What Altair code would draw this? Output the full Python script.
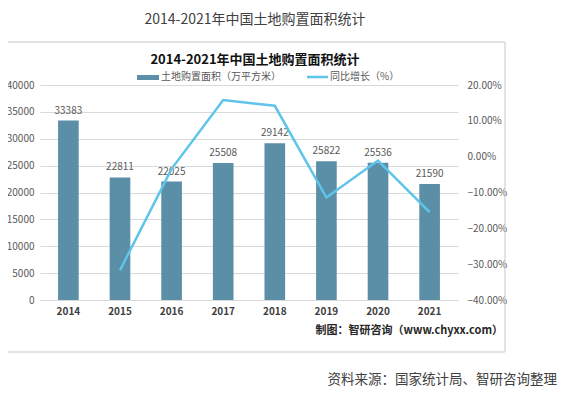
import altair as alt
import pandas as pd

years = ["2014", "2015", "2016", "2017", "2018", "2019", "2020", "2021"]
area = [33383, 22811, 22025, 25508, 29142, 25822, 25536, 21590]
growth_years = ["2015", "2016", "2017", "2018", "2019", "2020", "2021"]
growth_pct = [-31.7, -3.4, 15.8, 14.2, -11.4, -1.1, -15.5]
left_ticks = [0, 5000, 10000, 15000, 20000, 25000, 30000, 35000, 40000]
right_ticks = [-0.4, -0.3, -0.2, -0.1, 0.0, 0.1, 0.2]

outer_title = "2014-2021年中国土地购置面积统计"
inner_title = "2014-2021年中国土地购置面积统计"
legend_bar = "土地购置面积（万平方米）"
legend_line = "同比增长（%）"
credit = "制图：智研咨询（www.chyxx.com）"
source = "资料来源：国家统计局、智研咨询整理"

df = pd.DataFrame({"year": years, "area": area})
dg = pd.DataFrame({"year": growth_years, "growth": [g / 100 for g in growth_pct]})
one = pd.DataFrame({"a": [0]})

FONT = "Noto Sans CJK SC"
BAR = "#5b8fa7"
LINE = "#5ec4ea"

xscale = alt.Scale(domain=years, paddingInner=0.6, paddingOuter=0.35)

xenc = alt.X(
    "year:N",
    scale=xscale,
    axis=alt.Axis(title=None, labelAngle=0, labelFontWeight="bold", labelColor="#404040",
                  labelFontSize=10, domain=False, ticks=False, labelPadding=6, labelFont=FONT),
)

bars = alt.Chart(df).mark_bar(color=BAR).encode(
    x=xenc,
    y=alt.Y("area:Q", scale=alt.Scale(domain=[0, 40000]),
            axis=alt.Axis(title=None, orient="left", values=left_ticks, format="d", grid=True,
                          gridColor="#d9d9d9", domain=False, ticks=False, labelColor="#595959",
                          labelFontSize=10, labelPadding=6, labelFont=FONT)),
)

bartext = alt.Chart(df).mark_text(dy=-10, color="#595959", fontSize=10, font=FONT).encode(
    x=alt.X("year:N", scale=xscale),
    y=alt.Y("area:Q", scale=alt.Scale(domain=[0, 40000]), axis=None),
    text=alt.Text("area:Q", format="d"),
)

line = alt.Chart(dg).mark_line(color=LINE, strokeWidth=2.5).encode(
    x=alt.X("year:N", scale=xscale),
    y=alt.Y("growth:Q", scale=alt.Scale(domain=[-0.4, 0.2]),
            axis=alt.Axis(title=None, orient="right", values=right_ticks, format=".2%", grid=False,
                          domain=False, ticks=False, labelColor="#595959", labelFontSize=10,
                          labelPadding=9, labelFont=FONT)),
)

box = alt.Chart(one).mark_rect(fillOpacity=0, stroke="#c8c8c8", strokeWidth=1).encode(
    x=alt.value(-34), x2=alt.value(465), y=alt.value(-43), y2=alt.value(267))

t_outer = alt.Chart(one).mark_text(fontSize=14, color="#404040", font=FONT, align="center", baseline="middle").encode(
    x=alt.value(215), y=alt.value(-65), text=alt.value(outer_title))
t_inner = alt.Chart(one).mark_text(fontSize=13, fontWeight="bold", color="#111111", font=FONT, align="center", baseline="middle").encode(
    x=alt.value(215), y=alt.value(-25), text=alt.value(inner_title))

leg_rect = alt.Chart(one).mark_rect(color=BAR).encode(
    x=alt.value(97), x2=alt.value(119), y=alt.value(-10), y2=alt.value(-5))
leg_rect_t = alt.Chart(one).mark_text(fontSize=10, color="#595959", font=FONT, align="left", baseline="middle").encode(
    x=alt.value(121), y=alt.value(-8), text=alt.value(legend_bar))
leg_line = alt.Chart(one).mark_rule(color=LINE, strokeWidth=2.5).encode(
    x=alt.value(267), x2=alt.value(288), y=alt.value(-8))
leg_line_t = alt.Chart(one).mark_text(fontSize=10, color="#595959", font=FONT, align="left", baseline="middle").encode(
    x=alt.value(290), y=alt.value(-8), text=alt.value(legend_line))

t_credit = alt.Chart(one).mark_text(fontSize=11, fontWeight="bold", color="#262626", font=FONT, align="right", baseline="middle").encode(
    x=alt.value(463), y=alt.value(246), text=alt.value(credit))
t_source = alt.Chart(one).mark_text(fontSize=13.5, color="#404040", font=FONT, align="right", baseline="middle").encode(
    x=alt.value(517), y=alt.value(295), text=alt.value(source))

chart = alt.layer(
    box, bars, bartext, line, t_outer, t_inner, leg_rect, leg_rect_t, leg_line, leg_line_t, t_credit, t_source
).resolve_scale(y="independent").properties(
    width=418, height=215,
    autosize=alt.AutoSizeParams(type="none"),
    padding={"left": 32, "top": 77, "right": 101, "bottom": 91},
    background="white",
).configure_view(stroke=None)

chart.save("out.html", embed_options={"renderer": "svg", "actions": False})
